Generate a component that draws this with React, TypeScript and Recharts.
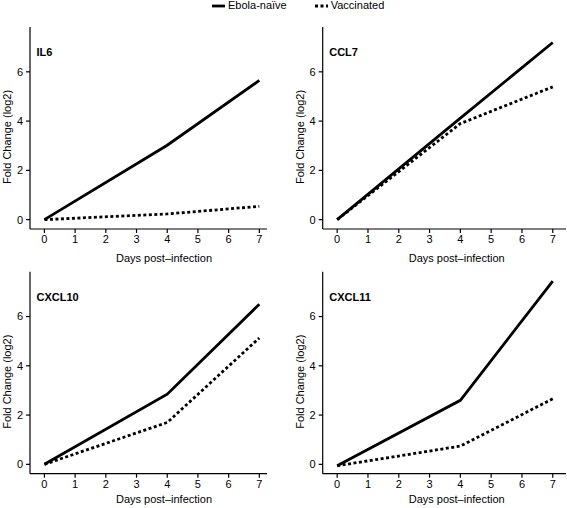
import { LineChart, Line, XAxis, YAxis, Label } from 'recharts'

const days = [0, 4, 7]
const dayTicks = [0, 1, 2, 3, 4, 5, 6, 7]
const foldTicks = [0, 2, 4, 6]

const il6Naive = [0, 3.02, 5.65]
const il6Vaccinated = [0, 0.23, 0.54]
const ccl7Naive = [0, 4.12, 7.19]
const ccl7Vaccinated = [0, 3.9, 5.39]
const cxcl10Naive = [0, 2.85, 6.5]
const cxcl10Vaccinated = [0, 1.7, 5.13]
const cxcl11Naive = [-0.06, 2.6, 7.44]
const cxcl11Vaccinated = [-0.06, 0.74, 2.66]

const FONT = '"Liberation Sans", Arial, Helvetica, sans-serif'

interface PanelProps {
  gene: string
  naive: number[]
  vaccinated: number[]
  left: number
  top: number
  width: number
  height: number
  marginLeft: number
  marginRight: number
  marginTop: number
  xMax: number
  xLabelGap: number
}

function Panel({ gene, naive, vaccinated, left, top, width, height, marginLeft, marginRight, marginTop, xMax, xLabelGap }: PanelProps) {
  const data = days.map((d, i) => ({ day: d, naive: naive[i], vaccinated: vaccinated[i] }))
  const axisX = left + marginLeft + 30

  const renderXLabel = (props: any) => {
    const vb = props.viewBox
    return (
      <text x={vb.x + 134} y={vb.y + xLabelGap} textAnchor="middle" dominantBaseline="central" fontSize={11} fill="#000" fontFamily={FONT}>
        Days post–infection
      </text>
    )
  }

  const renderYLabel = (props: any) => {
    const vb = props.viewBox
    const cx = vb.x + vb.width - 23
    const cy = vb.y + vb.height / 2 + 9
    return (
      <text x={cx} y={cy} textAnchor="middle" dominantBaseline="central" fontSize={11} fill="#000" fontFamily={FONT} transform={`rotate(-90 ${cx} ${cy})`}>
        Fold Change (log2)
      </text>
    )
  }

  return (
    <>
      <div style={{ position: 'absolute', left, top }}>
        <LineChart
          width={width}
          height={height}
          data={data}
          margin={{ top: marginTop, right: marginRight, left: marginLeft, bottom: 0 }}
        >
          <XAxis
            dataKey="day"
            type="number"
            domain={[-0.47, xMax]}
            ticks={dayTicks}
            allowDataOverflow
            height={height - marginTop - 202}
            stroke="#000"
            strokeWidth={1.2}
            tickSize={4}
            tickMargin={2}
            tick={{ fill: '#000', fontSize: 11, fontFamily: FONT }}
          >
            <Label content={renderXLabel} />
          </XAxis>
          <YAxis
            type="number"
            domain={[-0.38, 7.82]}
            ticks={foldTicks}
            allowDataOverflow
            width={30}
            stroke="#000"
            strokeWidth={1.2}
            tickSize={4}
            tickMargin={3}
            tick={{ fill: '#000', fontSize: 11, fontFamily: FONT }}
          >
            <Label content={renderYLabel} />
          </YAxis>
          <Line type="linear" dataKey="naive" stroke="#000" strokeWidth={2.8} dot={false} isAnimationActive={false} />
          <Line type="linear" dataKey="vaccinated" stroke="#000" strokeWidth={2.8} strokeDasharray="3 2.5" dot={false} isAnimationActive={false} />
        </LineChart>
      </div>
      <div style={{ position: 'absolute', left: axisX + 6.5, top: top + marginTop + 19, fontSize: 11, fontWeight: 'bold', fontFamily: FONT, lineHeight: '13px' }}>
        {gene}
      </div>
    </>
  )
}

export default function App() {
  return (
    <div style={{ position: 'absolute', left: 0, top: 0, width: 567, height: 508, background: '#fff', fontFamily: FONT, overflow: 'hidden' }}>
      <div style={{ position: 'absolute', left: 212, top: 0, display: 'flex', alignItems: 'center', fontSize: 11, lineHeight: '11px', color: '#000' }}>
        <svg width={13} height={6} style={{ marginRight: 3 }}>
          <line x1={0} y1={3} x2={13} y2={3} stroke="#000" strokeWidth={2.8} />
        </svg>
        <span>Ebola-naïve</span>
        <svg width={13} height={6} style={{ marginLeft: 28, marginRight: 3 }}>
          <line x1={0} y1={3} x2={13} y2={3} stroke="#000" strokeWidth={2.8} strokeDasharray="3 2.5" />
        </svg>
        <span>Vaccinated</span>
      </div>

      <Panel gene="IL6" naive={il6Naive} vaccinated={il6Vaccinated}
        left={0} top={0} width={280} height={270} marginLeft={0} marginRight={13} marginTop={27} xMax={7.25} xLabelGap={28.5} />
      <Panel gene="CCL7" naive={ccl7Naive} vaccinated={ccl7Vaccinated}
        left={280} top={0} width={287} height={270} marginLeft={12.7} marginRight={1} marginTop={27} xMax={7.43} xLabelGap={28.5} />
      <Panel gene="CXCL10" naive={cxcl10Naive} vaccinated={cxcl10Vaccinated}
        left={0} top={250} width={280} height={258} marginLeft={0} marginRight={13} marginTop={21.7} xMax={7.25} xLabelGap={25} />
      <Panel gene="CXCL11" naive={cxcl11Naive} vaccinated={cxcl11Vaccinated}
        left={280} top={250} width={287} height={258} marginLeft={12.7} marginRight={1} marginTop={21.7} xMax={7.43} xLabelGap={25} />
    </div>
  )
}
